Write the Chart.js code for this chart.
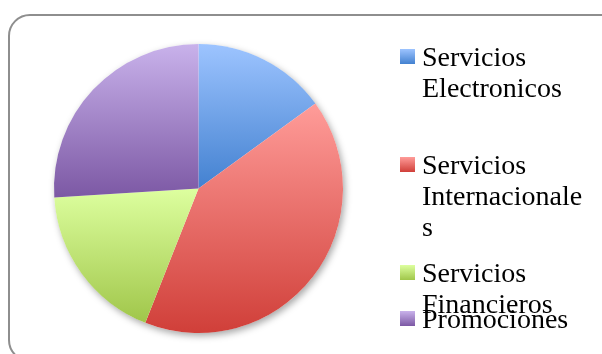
<!DOCTYPE html>
<html>
<head>
<meta charset="utf-8">
<script src="https://cdn.jsdelivr.net/npm/chart.js@4/dist/chart.umd.min.js"></script>
<style>
  html, body { margin: 0; padding: 0; background: #fff; }
  body { width: 602px; height: 354px; overflow: hidden; position: relative; }
  #frame {
    position: absolute; left: 8px; top: 14px; width: 616px; height: 348px;
    border: 2px solid #8e8e8e; border-radius: 22px; box-sizing: border-box;
  }
  #wrap { position: absolute; left: 0; top: 0; width: 602px; height: 354px; }
  #legend { position: absolute; left: 0; top: 0; font-family: 'Liberation Serif', serif; font-size: 28px; color: #000; }
  .item { position: absolute; left: 400px; width: 190px; }
  .swatch { position: absolute; left: 0; width: 15px; height: 15px; }
  .label { position: absolute; left: 22px; width: 168px; line-height: 31px; overflow-wrap: anywhere; }
</style>
</head>
<body>
<div id="frame"></div>
<div id="wrap"><canvas id="pieChart"></canvas></div>
<div id="legend"></div>
<script>
// Share of each service line
const categories = ['Servicios Electronicos', 'Servicios Internacionales', 'Servicios Financieros', 'Promociones'];
const shares = [15, 41, 18, 26];

// Light (top) and dark (bottom) shade of every slice
const topColors = ['#9dc4ff', '#ff9c99', '#ddff9f', '#c9b2eb'];
const bottomColors = ['#4381d0', '#d03f39', '#a0c64a', '#7c58a4'];

// Top of each legend entry
const legendTops = [41, 149, 257, 303];

// Vertical gradient over the bounding box of every slice, plus a soft drop shadow
const sliceGradients = {
  id: 'sliceGradients',
  beforeDatasetsDraw(chart) {
    const ctx = chart.ctx;
    const arcs = chart.getDatasetMeta(0).data;
    const first = arcs[0];

    ctx.save();
    ctx.shadowColor = 'rgba(0, 0, 0, 0.35)';
    ctx.shadowBlur = 7;
    ctx.shadowOffsetX = 2;
    ctx.shadowOffsetY = 3;
    ctx.beginPath();
    ctx.arc(first.x, first.y, first.outerRadius, 0, Math.PI * 2);
    ctx.fillStyle = '#ffffff';
    ctx.fill();
    ctx.restore();

    arcs.forEach((arc, i) => {
      const { x, y, startAngle, endAngle, outerRadius } = arc;
      const ys = [y, y + outerRadius * Math.sin(startAngle), y + outerRadius * Math.sin(endAngle)];
      [-Math.PI / 2, Math.PI / 2, Math.PI * 1.5].forEach(a => {
        if (a >= startAngle && a <= endAngle) ys.push(y + outerRadius * Math.sin(a));
      });
      const g = ctx.createLinearGradient(0, Math.min(...ys), 0, Math.max(...ys));
      g.addColorStop(0, topColors[i]);
      g.addColorStop(1, bottomColors[i]);
      arc.options.backgroundColor = g;
    });
  }
};

new Chart(document.getElementById('pieChart'), {
  type: 'pie',
  data: {
    labels: categories,
    datasets: [{
      data: shares,
      backgroundColor: bottomColors,
      borderWidth: 0
    }]
  },
  options: {
    responsive: true,
    maintainAspectRatio: false,
    animation: false,
    events: [],
    layout: { padding: { left: 54, right: 259, top: 44, bottom: 21 } },
    plugins: {
      legend: { display: false },
      tooltip: { enabled: false }
    }
  },
  plugins: [sliceGradients]
});

// Legend on the right, wrapped the way the labels break
const legend = document.getElementById('legend');
categories.forEach((name, i) => {
  const item = document.createElement('div');
  item.className = 'item';
  item.style.top = legendTops[i] + 'px';
  const sw = document.createElement('div');
  sw.className = 'swatch';
  sw.style.top = '8px';
  sw.style.background = `linear-gradient(${topColors[i]}, ${bottomColors[i]})`;
  const label = document.createElement('div');
  label.className = 'label';
  label.textContent = name;
  item.appendChild(sw);
  item.appendChild(label);
  legend.appendChild(item);
});
</script>
</body>
</html>
